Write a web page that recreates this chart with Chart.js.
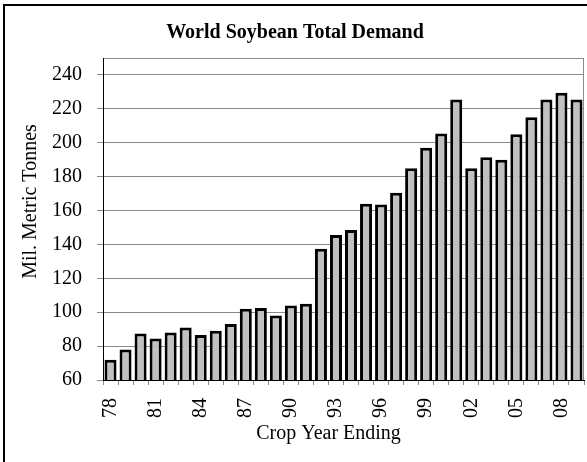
<!DOCTYPE html>
<html>
<head>
<meta charset="utf-8">
<title>World Soybean Total Demand</title>
<script src="https://cdn.jsdelivr.net/npm/chart.js@4/dist/chart.umd.min.js"></script>
<style>
  html, body { margin: 0; padding: 0; background: #fff; overflow: hidden; }
  #wrap { position: relative; width: 587px; height: 462px; }
  #frame {
    position: absolute; left: 3px; top: 4px; width: 700px; height: 600px;
    border: 2.5px solid #000; box-sizing: border-box; pointer-events: none;
  }
  canvas { position: absolute; left: 0; top: 0; }
</style>
</head>
<body>
<div id="wrap">
  <canvas id="chart" width="587" height="462"></canvas>
  <div id="frame"></div>
</div>
<script>
'use strict';

// ── Data ────────────────────────────────────────────────────────
const years = [
  '78', '79', '80', '81', '82', '83', '84', '85', '86', '87', '88',
  '89', '90', '91', '92', '93', '94', '95', '96', '97', '98', '99',
  '00', '01', '02', '03', '04', '05', '06', '07', '08', '09',
];
const demand = [
  72, 78, 87.5, 84.5, 88, 91, 86.5, 89, 93, 102, 102.5,
  98, 104, 105, 137.5, 145.5, 148.5, 164, 163.5, 170.5, 185, 197,
  205.5, 225.5, 185, 191.5, 190, 205, 215, 225.5, 229.5, 225.5,
];
const yTickValues = [60, 80, 100, 120, 140, 160, 180, 200, 220, 240];
const yMin = 60;
const yMax = 250;

const FONT = "'Liberation Serif', 'Times New Roman', serif";
const GRID = '#8a8a8a';

// ── Plot frame: gray line down the right edge of the plot area ──
const plotFrame = {
  id: 'plotFrame',
  afterDraw(chart) {
    const { ctx, chartArea: a } = chart;
    ctx.save();
    ctx.strokeStyle = GRID;
    ctx.lineWidth = 1;
    ctx.beginPath();
    ctx.moveTo(Math.round(a.right) - 0.5, a.top);
    ctx.lineTo(Math.round(a.right) - 0.5, a.bottom);
    ctx.stroke();
    ctx.restore();
  },
};

new Chart(document.getElementById('chart'), {
  type: 'bar',
  data: {
    labels: years,
    datasets: [{
      label: 'Total Demand',
      data: demand,
      backgroundColor: '#c0c0c0',
      borderColor: '#000',
      borderWidth: 3,
      borderSkipped: false,
      barPercentage: 0.8,
      categoryPercentage: 1,
    }],
  },
  options: {
    responsive: false,
    animation: false,
    devicePixelRatio: 1,
    layout: { autoPadding: false, padding: { left: 6, right: 3, top: 5, bottom: 0 } },
    plugins: {
      legend: { display: false },
      tooltip: { enabled: false },
      title: {
        display: true,
        text: 'World Soybean Total Demand',
        color: '#000',
        font: { family: FONT, size: 20, weight: 'bold' },
        padding: { top: 16, bottom: 13 },
      },
    },
    scales: {
      x: {
        afterFit: s => { s.height = 82; s.paddingLeft = 0; s.paddingRight = 0; },
        grid: {
          offset: true,
          drawOnChartArea: false,
          color: GRID,
          tickLength: 5,
        },
        border: { display: true, color: '#000', width: 1 },
        ticks: {
          autoSkip: false,
          minRotation: 90,
          maxRotation: 90,
          padding: 13,
          color: '#000',
          font: { family: FONT, size: 20 },
          callback: (v, i) => (i % 3 === 0 ? years[i] : ''),
        },
        title: {
          display: true,
          text: 'Crop Year Ending      ',
          color: '#000',
          font: { family: FONT, size: 20 },
          padding: { top: 0, bottom: 16 },
        },
      },
      y: {
        min: yMin,
        max: yMax,
        afterFit: s => { s.width = 97; s.paddingTop = 0; s.paddingBottom = 0; },
        // fixed tick list: 60..240 labelled, plus the top edge at 250
        afterBuildTicks: s => { s.ticks = yTickValues.concat([yMax]).map(v => ({ value: v })); },
        grid: {
          color: GRID,
          tickLength: 6,
          tickColor: c => (c.tick && c.tick.value === yMax ? 'rgba(0,0,0,0)' : GRID),
        },
        border: { display: true, color: '#000', width: 1 },
        ticks: {
          padding: 15,
          color: '#000',
          font: { family: FONT, size: 20 },
          callback: v => (v === yMax ? '' : v),
        },
        title: {
          display: true,
          text: '       Mil. Metric Tonnes',
          color: '#000',
          font: { family: FONT, size: 20 },
          padding: { top: 13, bottom: 0 },
        },
      },
    },
  },
  plugins: [plotFrame],
});
</script>
</body>
</html>
